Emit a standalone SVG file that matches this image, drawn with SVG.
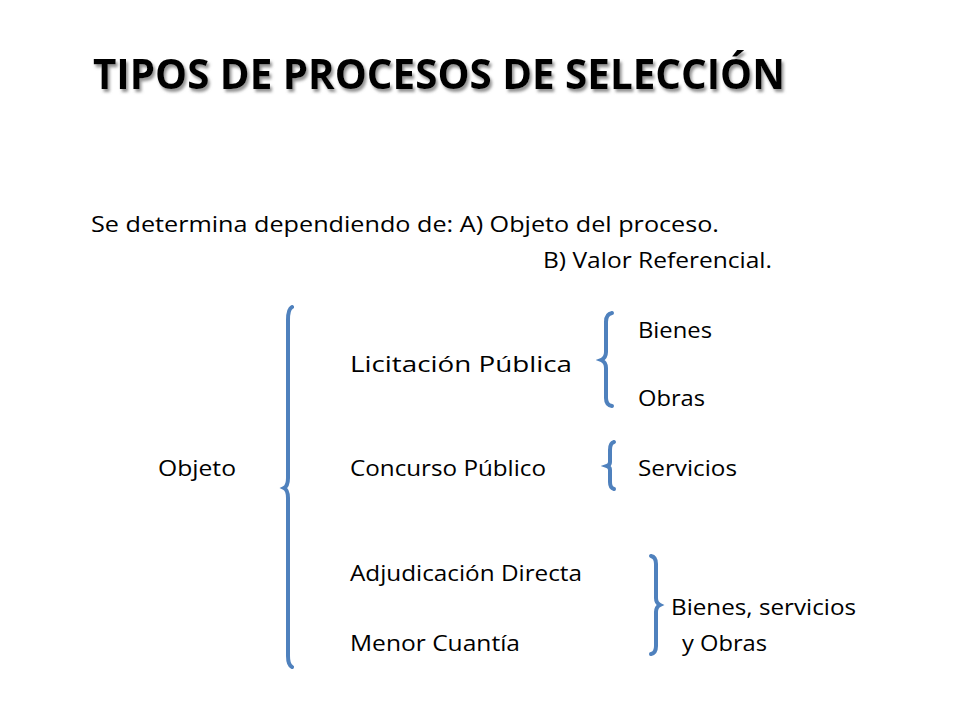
<svg xmlns="http://www.w3.org/2000/svg" width="960" height="720" viewBox="0 0 960 720">
<defs>
<filter id="sh" x="-5%" y="-20%" width="110%" height="150%"><feDropShadow dx="2" dy="3" stdDeviation="1.5" flood-color="#777" flood-opacity="0.8"/></filter>
</defs>
<style>
text{font-family:"Open Sans","Liberation Sans",sans-serif;font-size:22px;fill:#000}
.t{font-family:"Open Sans","Liberation Sans",sans-serif;font-weight:bold;font-size:42px}
.b{fill:none;stroke:#4f81bd;stroke-width:4;stroke-linecap:round}
</style>
<rect width="960" height="720" fill="#fff"/>
<text class="t" x="93" y="89" filter="url(#sh)" textLength="692" lengthAdjust="spacingAndGlyphs">TIPOS DE PROCESOS DE SELECCIÓN</text>
<text x="91" y="232" textLength="628" lengthAdjust="spacingAndGlyphs">Se determina dependiendo de: A) Objeto del proceso.</text>
<text x="543" y="268" textLength="229" lengthAdjust="spacingAndGlyphs">B) Valor Referencial.</text>
<g id="n-objeto"><text x="158" y="476" textLength="78" lengthAdjust="spacingAndGlyphs">Objeto</text></g>
<g id="n-licitacion"><text x="350" y="372" textLength="222" lengthAdjust="spacingAndGlyphs">Licitación Pública</text></g>
<g id="n-concurso"><text x="350" y="476" textLength="196" lengthAdjust="spacingAndGlyphs">Concurso Público</text></g>
<g id="n-adjudicacion"><text x="350" y="581" textLength="232" lengthAdjust="spacingAndGlyphs">Adjudicación Directa</text></g>
<g id="n-menor"><text x="350" y="651" textLength="170" lengthAdjust="spacingAndGlyphs">Menor Cuantía</text></g>
<g id="n-bienes"><text x="638" y="338" textLength="74" lengthAdjust="spacingAndGlyphs">Bienes</text></g>
<g id="n-obras"><text x="638" y="406" textLength="67" lengthAdjust="spacingAndGlyphs">Obras</text></g>
<g id="n-servicios"><text x="638" y="476" textLength="99" lengthAdjust="spacingAndGlyphs">Servicios</text></g>
<g id="n-bso"><text x="671" y="615" textLength="185" lengthAdjust="spacingAndGlyphs">Bienes, servicios</text>
<text x="682" y="651" textLength="85" lengthAdjust="spacingAndGlyphs">y Obras</text></g>
<g id="connectors">
<path class="b" d="M292,307 Q288,309 288,320 L288,478 Q288,486 284,488 Q288,490 288,498 L288,656 Q288,665 292,667"/>
<path class="b" d="M612,313 Q606,314 606,322 L606,352 Q606,358 601,360 Q606,362 606,368 L606,398 Q606,405 612,406"/>
<path class="b" d="M614,442 Q610,443 610,450 L610,462 Q610,465 607,466 Q610,467 610,470 L610,482 Q610,488 614,489"/>
<path class="b" d="M651,556 Q656,557 656,564 L656,598 Q656,603 660,605 Q656,607 656,612 L656,646 Q656,653 651,654"/>
</g>
</svg>
